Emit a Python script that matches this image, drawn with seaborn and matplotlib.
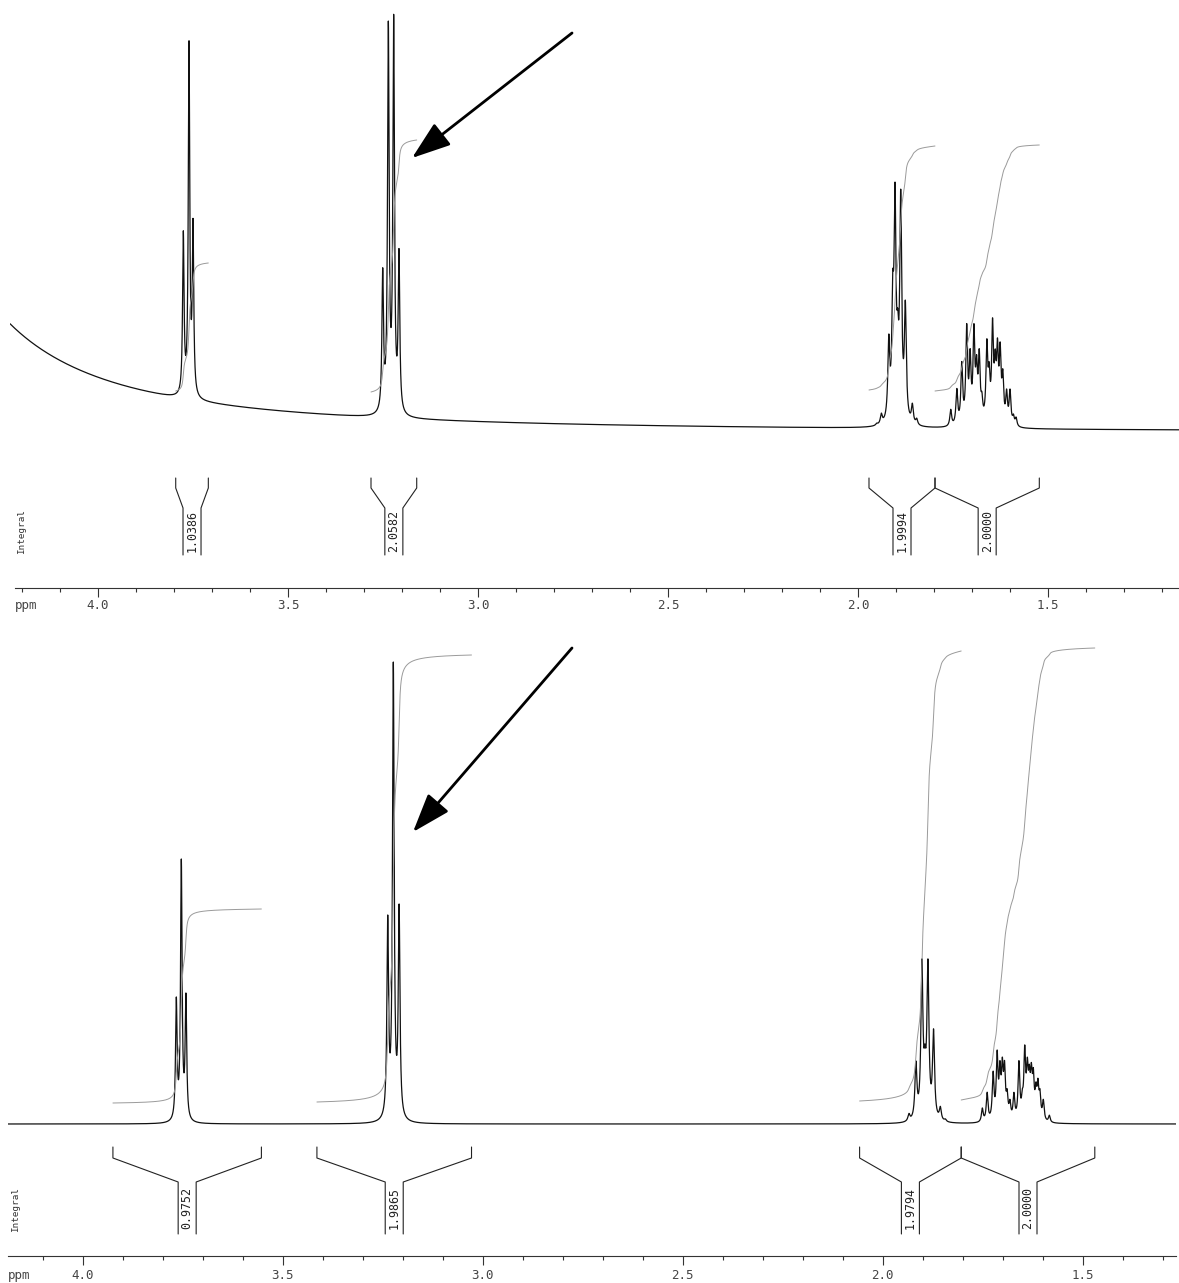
import numpy as np
import matplotlib
matplotlib.use("Agg")
import matplotlib.pyplot as plt
import seaborn as sns
import pandas as pd

# ------------------------------------------------------------------ data
# Upper spectrum: multiplets (ppm, apparent height above local baseline)
top_m1_ppm = [3.7755, 3.7605, 3.7500]
top_m1_h = [168, 359, 182]
top_m2_ppm = [3.2508, 3.2360, 3.2220, 3.2080]
top_m2_h = [150, 397, 404, 170]
top_m3_ppm = [1.9508, 1.9387, 1.9190, 1.9087, 1.9026, 1.8955, 1.8876, 1.8755, 1.8570, 1.8455]
top_m3_h = [5, 15, 94, 157, 246, 120, 239, 128, 25, 10]
top_m4_ppm = [1.756, 1.740, 1.727, 1.714, 1.705, 1.695, 1.688, 1.681, 1.674, 1.661,
              1.655, 1.646, 1.639, 1.633, 1.626, 1.619, 1.609, 1.600, 1.591, 1.584]
top_m4_h = [19, 40, 67, 105, 80, 105, 74, 80, 37, 90,
            67, 111, 80, 91, 87, 60, 40, 40, 15, 12]
# broad residual water (HOD) line outside the window, giving the sloping baseline
top_water_ppm = 4.79
top_water_h = 3500

# Lower spectrum
bot_m1_ppm = [3.7660, 3.7535, 3.7420]
bot_m1_h = [127, 265, 131]
bot_m2_ppm = [3.2375, 3.2235, 3.2090]
bot_m2_h = [209, 462, 220]
bot_m3_ppm = [1.9345, 1.9170, 1.9020, 1.8945, 1.8870, 1.8730, 1.8560, 1.8435]
bot_m3_h = [10.5, 63, 165, 80, 165, 95, 17.5, 5]
bot_m4_ppm = [1.751, 1.739, 1.724, 1.714, 1.707, 1.701, 1.6955, 1.689, 1.682, 1.672, 1.6595,
              1.651, 1.645, 1.6385, 1.6335, 1.6285, 1.6235, 1.617, 1.612, 1.607, 1.5985, 1.5835]
bot_m4_h = [15.8, 31.6, 52.7, 73.8, 63.3, 66.8, 63.3, 35, 24.6, 31.6, 63.3,
            35, 79, 66.8, 59.7, 61.5, 56.2, 42.1, 45.7, 35, 24.6, 8.8]

# Integral regions (ppm from, ppm to), values, curve start / end levels
top_int_from = [3.7955, 3.2816, 1.9711, 1.7974]
top_int_to = [3.7097, 3.1613, 1.7974, 1.5229]
top_int_vals = ["1.0386", "2.0582", "1.9994", "2.0000"]
top_int_start = [197, 196, 198, 197]
top_int_end = [325, 448, 442, 443]

bot_int_from = [3.9245, 3.4145, 2.0578, 1.8038]
bot_int_to = [3.5533, 3.0280, 1.8038, 1.4698]
bot_int_vals = ["0.9752", "1.9865", "1.9794", "2.0000"]
bot_int_start = [153, 154, 155, 156]
bot_int_end = [347, 601, 605, 608]

major_ticks = [4.0, 3.5, 3.0, 2.5, 2.0, 1.5]
major_labels = ["4.0", "3.5", "3.0", "2.5", "2.0", "1.5"]

# arrow annotations (ppm, level): tip, tail
top_arrow = [(3.1737, 430), (2.7526, 555)]
bot_arrow = [(3.1743, 424), (2.7768, 608)]

# ------------------------------------------------------------------ helpers
W, H = 1179, 1283


def lorentz_sum(grid, centers, heights, w):
    c = np.asarray(centers, float)
    h = np.asarray(heights, float)
    A = 1.0 / (1.0 + ((c[:, None] - c[None, :]) / w) ** 2)
    amp = np.clip(np.linalg.solve(A, h), 0, None)
    return (amp[None, :] / (1.0 + ((grid[:, None] - c[None, :]) / w) ** 2)).sum(axis=1)


sns.set_style("white")
plt.rcParams["font.family"] = ["DejaVu Sans Mono", "DejaVu Sans"]
fig = plt.figure(figsize=(W / 100, H / 100), dpi=100)


def make_panel(rect_px, xlim, ylim, spine_bounds, multiplets, water, base,
               ints, arrow, tick_pad, ppm_xy, integral_xy):
    l, t, r, b = rect_px
    ax = fig.add_axes([l / W, (H - b) / H, (r - l) / W, (b - t) / H])
    grid = np.linspace(xlim[0], xlim[1], 60000)
    peaks = np.zeros_like(grid)
    for ppm, hts, w in multiplets:
        peaks += lorentz_sum(grid, ppm, hts, w)
    drift = np.zeros_like(grid)
    if water is not None:
        drift = water[1] / (1.0 + ((grid - water[0]) / 0.1) ** 2)
    spec = base + drift + peaks
    df = pd.DataFrame({"ppm": grid, "intensity": spec})
    sns.lineplot(data=df, x="ppm", y="intensity", ax=ax, color="#111111",
                 lw=0.9, estimator=None, sort=False)

    # integral curves
    for a, z, s, e in zip(ints[0], ints[1], ints[2], ints[3]):
        m = (grid <= a) & (grid >= z)
        cum = np.cumsum(peaks[m])
        cum = cum / cum[-1]
        ax.plot(grid[m], s + (e - s) * cum, color="#9a9a9a", lw=0.7)

    # integral brackets + values
    top_y, knee_y, col_top, col_bot = ints[5]
    hw = ints[6]
    for a, z, v in zip(ints[0], ints[1], ints[4]):
        c = 0.5 * (a + z)
        ax.plot([a, a, c + hw, c + hw], [top_y, knee_y, col_top, col_bot],
                color="#222222", lw=0.8)
        ax.plot([z, z, c - hw, c - hw], [top_y, knee_y, col_top, col_bot],
                color="#222222", lw=0.8)
        ax.text(c, 0.5 * (col_top + col_bot), v, rotation=90, ha="center",
                va="center", fontsize=8.4, color="#222222",
                family="DejaVu Sans Mono")

    ax.annotate("", xy=arrow[0], xytext=arrow[1],
                arrowprops=dict(arrowstyle="-|>,head_length=1.2,head_width=0.42",
                                lw=2.0, color="black", mutation_scale=20,
                                shrinkA=0, shrinkB=0))

    ax.set_xlim(*xlim)
    ax.set_ylim(*ylim)
    ax.set_xticks(major_ticks)
    ax.set_xticklabels(major_labels)
    ax.set_xticks([v / 10 for v in range(12, 43)
                   if min(xlim) <= v / 10 <= max(xlim) and v % 5 != 0], minor=True)
    ax.tick_params(axis="x", which="major", direction="out", length=6.2, width=0.8,
                   color="#333333", labelsize=9, labelcolor="#444444", pad=tick_pad,
                   bottom=True)
    ax.tick_params(axis="x", which="minor", direction="out", length=3.2, width=0.8,
                   color="#333333", bottom=True)
    ax.set_yticks([])
    ax.set_xlabel("")
    ax.set_ylabel("")
    for sp in ["top", "left", "right"]:
        ax.spines[sp].set_visible(False)
    ax.spines["bottom"].set_color("#333333")
    ax.spines["bottom"].set_linewidth(0.8)
    ax.spines["bottom"].set_bounds(*spine_bounds)
    ax.set_facecolor("none")

    fig.text(ppm_xy[0] / W, 1 - ppm_xy[1] / H, "ppm", fontsize=9,
             color="#444444", ha="left", va="center")
    fig.text(integral_xy[0] / W, 1 - integral_xy[1] / H, "Integral", fontsize=6.7,
             color="#333333", rotation=90, ha="center", va="center")
    return ax


# upper panel
top_xlim = (4.2316, 1.1553)
make_panel(rect_px=(10, 0, 1179, 588), xlim=top_xlim, ylim=(0, 588),
           spine_bounds=(4.218, 1.1553),
           multiplets=[(top_m1_ppm, top_m1_h, 0.0023), (top_m2_ppm, top_m2_h, 0.0025),
                       (top_m3_ppm, top_m3_h, 0.003), (top_m4_ppm, top_m4_h, 0.0028)],
           water=(top_water_ppm, top_water_h), base=155.5,
           ints=(top_int_from, top_int_to, top_int_start, top_int_end, top_int_vals,
                 (110, 100, 80, 33), 0.0237),
           arrow=top_arrow, tick_pad=2.0, ppm_xy=(15, 605), integral_xy=(22, 531))

# lower panel
bot_xlim = (4.1868, 1.2668)
make_panel(rect_px=(8, 620, 1176, 1256), xlim=bot_xlim, ylim=(0, 636),
           spine_bounds=bot_xlim,
           multiplets=[(bot_m1_ppm, bot_m1_h, 0.0023), (bot_m2_ppm, bot_m2_h, 0.0025),
                       (bot_m3_ppm, bot_m3_h, 0.003), (bot_m4_ppm, bot_m4_h, 0.0026)],
           water=None, base=132,
           ints=(bot_int_from, bot_int_to, bot_int_start, bot_int_end, bot_int_vals,
                 (109, 98, 74, 22), 0.0225),
           arrow=bot_arrow, tick_pad=3.0, ppm_xy=(8, 1275), integral_xy=(16, 1210))

fig.savefig("out.png", dpi=100, facecolor="white")
